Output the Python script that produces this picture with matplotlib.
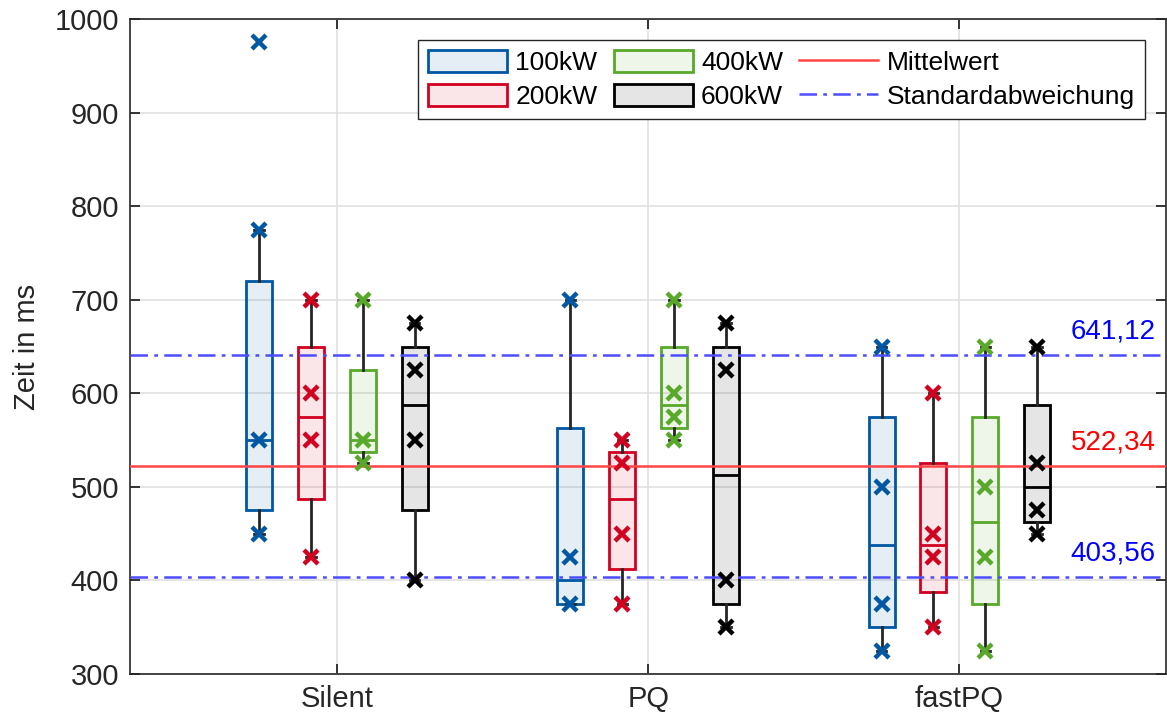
import numpy as np
import matplotlib
matplotlib.use("Agg")
import matplotlib.pyplot as plt
from matplotlib.patches import Patch
from matplotlib.lines import Line2D

# categories and series
groups = ["Silent", "PQ", "fastPQ"]
power_labels = ["100kW", "200kW", "400kW", "600kW"]

# box statistics per group (rows) and power (columns)
q1 = [[475, 487.5, 537.5, 475], [375, 412.5, 562.5, 375], [350, 387.5, 375, 462.5]]
med = [[550, 575, 550, 587.5], [400, 487.5, 587.5, 512.5], [437.5, 437.5, 462.5, 500]]
q3 = [[720, 650, 625, 650], [562.5, 537.5, 650, 650], [575, 525, 575, 587.5]]
whislo = [[450, 425, 525, 400], [375, 375, 550, 350], [325, 350, 325, 450]]
whishi = [[775, 700, 700, 675], [700, 550, 700, 675], [650, 600, 650, 650]]

# single measurements (x markers)
points = [
    [[975, 775, 550, 450], [700, 600, 550, 425], [700, 550, 525], [675, 625, 550, 400]],
    [[700, 425, 375], [550, 525, 450, 375], [700, 600, 575, 550], [675, 625, 400, 350]],
    [[650, 500, 375, 325], [600, 450, 425, 350], [650, 500, 425, 325], [650, 525, 475, 450]],
]

mean_val = 522.34
std_hi = 641.12
std_lo = 403.56

colors = ["#0057A3", "#D2001E", "#58A92A", "#000000"]
offsets = [-0.25, -1 / 12, 1 / 12, 0.25]

plt.rcParams["font.family"] = ["Liberation Sans", "DejaVu Sans"]
plt.rcParams["font.size"] = 21

fig = plt.figure(figsize=(11.67, 7.18), dpi=100)
ax = fig.add_axes([0.1114, 0.0613, 0.8880, 0.9122])

darkgray = "#262626"
for g in range(len(groups)):
    for p in range(len(power_labels)):
        c = colors[p]
        pos = g + 1 + offsets[p]
        stats = [{"q1": q1[g][p], "med": med[g][p], "q3": q3[g][p],
                  "whislo": whislo[g][p], "whishi": whishi[g][p], "fliers": []}]
        ax.bxp(stats, positions=[pos], widths=1 / 12, patch_artist=True,
               showfliers=False, capwidths=0.03,
               boxprops=dict(facecolor=matplotlib.colors.to_rgba(c, 0.1), edgecolor=c, linewidth=2),
               medianprops=dict(color=c, linewidth=2),
               whiskerprops=dict(color=darkgray, linewidth=2),
               capprops=dict(color=darkgray, linewidth=2),
               zorder=3)
        ax.plot([pos] * len(points[g][p]), points[g][p], linestyle="none", marker="x",
                markersize=9.5, markeredgewidth=3.2, color=c, zorder=5)

dash = (7, 2.5, 1.5, 2.5)
ax.axhline(mean_val, color="#FF4545", linewidth=1.8, zorder=4)
ax.axhline(std_hi, color="#4D4DFF", linewidth=1.8, dashes=dash, zorder=4)
ax.axhline(std_lo, color="#4D4DFF", linewidth=1.8, dashes=dash, zorder=4)

tx = 3.63
ax.text(tx, std_hi + 11, "641,12", color="blue", ha="right", va="bottom", fontsize=20)
ax.text(tx, mean_val + 11, "522,34", color="red", ha="right", va="bottom", fontsize=20)
ax.text(tx, std_lo + 11, "403,56", color="blue", ha="right", va="bottom", fontsize=20)

ax.set_xlim(0.335, 3.665)
ax.set_ylim(300, 1000)
ax.set_xticks([1, 2, 3])
ax.set_xticklabels(groups)
ax.set_yticks(np.arange(300, 1001, 100))
ax.set_ylabel("Zeit in ms", color=darkgray)
ax.yaxis.set_label_coords(-0.086, 0.5)
ax.grid(True, color="#E0E0E0", linewidth=1.2, zorder=0)
ax.set_axisbelow(True)
ax.tick_params(direction="in", top=True, right=True, length=7, width=1.3,
               colors=darkgray, labelcolor=darkgray, pad=8)
for s in ax.spines.values():
    s.set_color(darkgray)
    s.set_linewidth(1.2)

handles = []
for p in range(len(power_labels)):
    handles.append(Patch(facecolor=matplotlib.colors.to_rgba(colors[p], 0.1),
                         edgecolor=colors[p], linewidth=2, label=power_labels[p]))
handles.append(Line2D([], [], color="#FF4545", linewidth=1.8, label="Mittelwert"))
handles.append(Line2D([], [], color="#4D4DFF", linewidth=1.8, dashes=dash,
                      label="Standardabweichung"))
leg = ax.legend(handles=handles, ncol=3, loc="upper right", bbox_to_anchor=(0.979, 0.968),
                borderaxespad=0, fancybox=False, framealpha=1, edgecolor=darkgray,
                fontsize=19, handlelength=3.0, handleheight=0.9, columnspacing=0.62,
                handletextpad=0.3, labelspacing=0.33, borderpad=0.38)
leg.get_frame().set_linewidth(1.0)

fig.savefig("out.png", dpi=100)
